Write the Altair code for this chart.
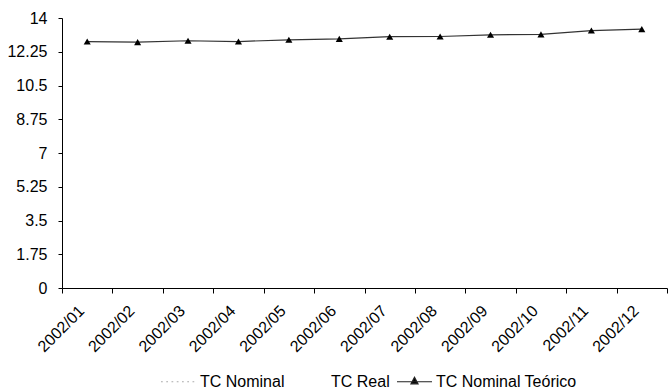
import altair as alt
import pandas as pd

months = ["2002/01", "2002/02", "2002/03", "2002/04", "2002/05", "2002/06",
          "2002/07", "2002/08", "2002/09", "2002/10", "2002/11", "2002/12"]
tc_nominal_teorico = [12.78, 12.75, 12.82, 12.78, 12.87, 12.92,
                      13.03, 13.04, 13.13, 13.15, 13.35, 13.42]
series = ["TC Nominal", "TC Real", "TC Nominal Teórico"]
y_ticks = [0, 1.75, 3.5, 5.25, 7, 8.75, 10.5, 12.25, 14]

df = pd.DataFrame({"mes": months, "valor": tc_nominal_teorico,
                   "serie": ["TC Nominal Teórico"] * len(months)})

FONT = "Liberation Sans"

x_enc = alt.X(
    "mes:N", sort=months, title=None,
    scale=alt.Scale(type="band", paddingInner=0, paddingOuter=0),
    axis=alt.Axis(labelAngle=-45, labelAlign="right", labelBaseline="middle",
                  labelOffset=-6, labelPadding=15, tickBand="extent", tickSize=5,
                  domainColor="black", tickColor="black", labelColor="black",
                  labelFont=FONT, labelFontSize=16, grid=False),
)
y_enc = alt.Y(
    "valor:Q", title=None,
    scale=alt.Scale(domain=[0, 14], nice=False, zero=True),
    axis=alt.Axis(values=y_ticks, format=".2~f", tickSize=4, labelPadding=11,
                  domainColor="black", tickColor="black", labelColor="black",
                  labelFont=FONT, labelFontSize=16, grid=False),
)

base = alt.Chart(df).encode(x=x_enc, y=y_enc)
line = base.mark_line(color="#333333", strokeWidth=1.2)
pts = base.mark_point(shape="triangle-up", filled=True, color="black", size=50, opacity=1)

paths = [
    "M-1,0H-0.9M-0.7,0H-0.6M-0.4,0H-0.3M-0.1,0H0M0.2,0H0.3M0.5,0H0.6M0.8,0H0.9",
    "M-1,0H1",
    "M-1,0H1M0,-0.25L0.2,0.12L-0.2,0.12Z",
]
fills = ["#aaaaaa", "white", "black"]
strokes = ["#aaaaaa", "white", "#222222"]

leg = dict(orient="none", legendX=98, legendY=345, direction="horizontal", title=None,
           labelFont=FONT, labelFontSize=16, labelColor="black", symbolSize=1225,
           symbolStrokeWidth=1.2, columnPadding=4, labelOffset=3, padding=0)

legend_layer = alt.Chart(df).transform_filter("false").mark_point(
    filled=True, opacity=1, size=1225, strokeWidth=1.2
).encode(
    fill=alt.Fill("serie:N", scale=alt.Scale(domain=series, range=fills), legend=alt.Legend(**leg)),
    stroke=alt.Stroke("serie:N", scale=alt.Scale(domain=series, range=strokes), legend=alt.Legend(**leg)),
    shape=alt.Shape("serie:N", scale=alt.Scale(domain=series, range=paths), legend=alt.Legend(**leg)),
)

chart = alt.layer(line, pts, legend_layer).properties(
    width=605, height=270,
    autosize=alt.AutoSizeParams(type="none"),
    padding={"left": 62, "top": 18, "right": 1, "bottom": 103},
    background="white",
).configure_view(stroke=None)

chart.save("out.html", embed_options={"renderer": "svg", "actions": False})
